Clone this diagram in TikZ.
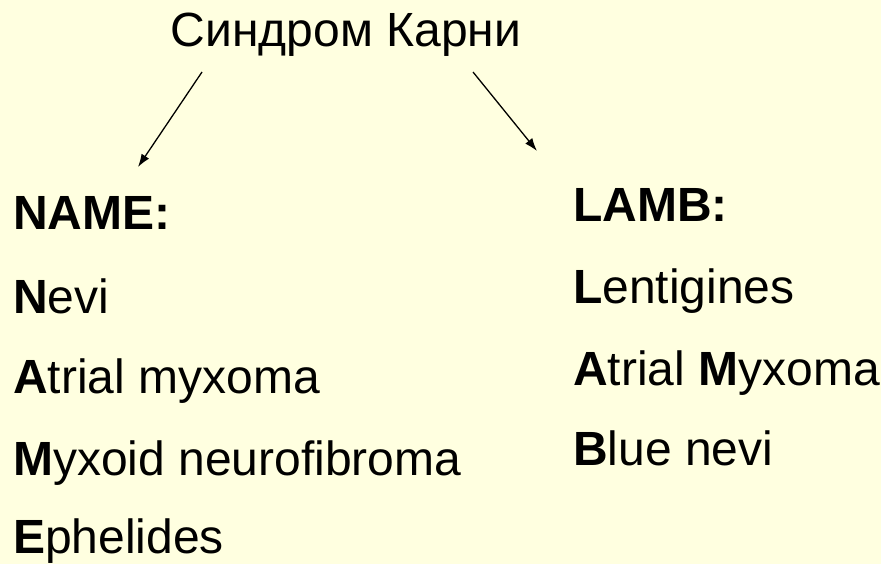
\documentclass[tikz,border=0pt]{standalone}
\usepackage{fontspec}
\setmainfont{Liberation Sans}
\usetikzlibrary{arrows.meta}
\definecolor{bg}{HTML}{FFFFE0}
\begin{document}
\begin{tikzpicture}[x=1pt,y=-1pt,
  txt/.style={anchor=base west,inner sep=0pt,font=\fontsize{48}{52}\selectfont},
  conn/.style={line width=1.3pt,-{Latex[length=13pt,width=9pt]}}]
\fill[bg] (0,0) rectangle (881,564);
\useasboundingbox (0,0) rectangle (881,564);
\node[anchor=base,inner sep=0pt,font=\fontsize{48}{52}\selectfont] (title) at (346,47) {Синдром Карни};
\node[txt] (name) at (13,230) {\textbf{NAME:}};
\node[txt] (n1) at (13,313) {\textbf{N}evi};
\node[txt] (n2) at (13,393) {\textbf{A}trial myxoma};
\node[txt] (n3) at (13,475) {\textbf{M}yxoid neurofibroma};
\node[txt] (n4) at (13,553) {\textbf{E}phelides};
\node[txt] (lamb) at (573,222) {\textbf{LAMB:}};
\node[txt] (l1) at (573,303) {\textbf{L}entigines};
\node[txt] (l2) at (573,385) {\textbf{A}trial \textbf{M}yxoma};
\node[txt] (l3) at (573,465) {\textbf{B}lue nevi};
\coordinate (ls) at (202,72);
\coordinate (le) at (138,167);
\coordinate (rs) at (473,72);
\coordinate (re) at (537,151);
\draw[conn] (ls) -- (le);
\draw[conn] (rs) -- (re);
\end{tikzpicture}
\end{document}
